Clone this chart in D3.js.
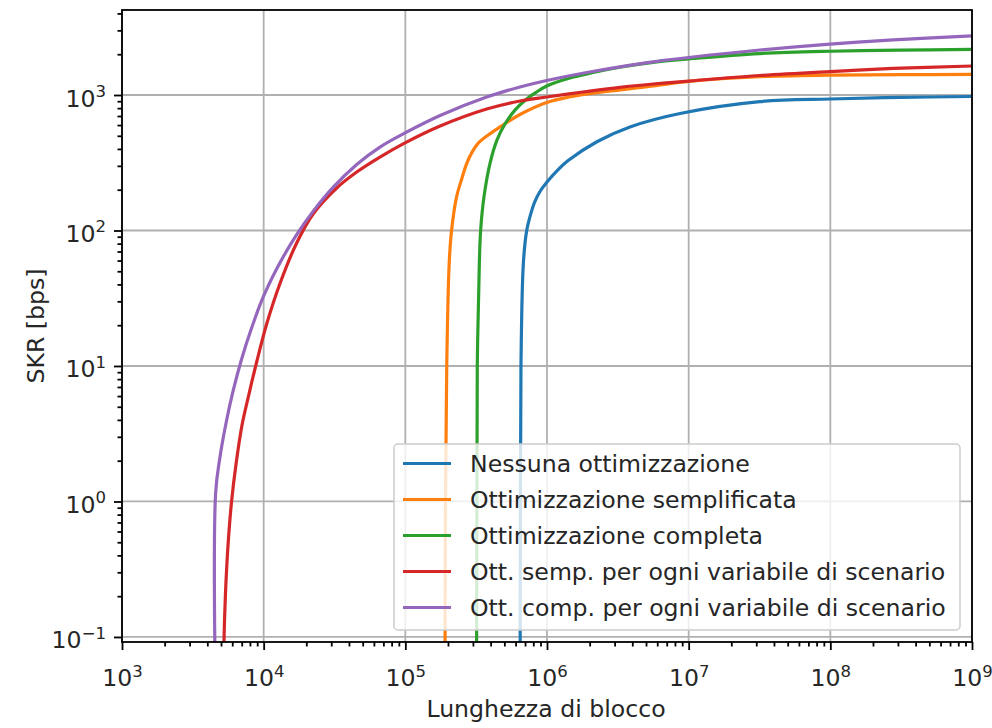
<!DOCTYPE html>
<html><head><meta charset="utf-8">
<script src="https://cdn.jsdelivr.net/npm/d3@7"></script>
<style>
body{margin:0;background:#fff}
svg{display:block}
text{font-family:"DejaVu Sans","Noto Sans",sans-serif;fill:#262626}
</style>
</head><body>
<svg id="chart" width="992" height="728"></svg>
<script>
// ---- data ----
const seriesNames = [
  "Nessuna ottimizzazione",
  "Ottimizzazione semplificata",
  "Ottimizzazione completa",
  "Ott. semp. per ogni variabile di scenario",
  "Ott. comp. per ogni variabile di scenario"
];
const seriesColors = ["#1f77b4", "#ff7f0e", "#2ca02c", "#d62728", "#9467bd"];

const nNone   = [6.46e5, 6.49e5, 6.55e5, 6.81e5, 7.19e5, 7.59e5, 8.22e5, 9.06e5, 1e6, 1.18e6, 1.41e6, 2.25e6, 3.85e6, 8.69e6, 3.18e7, 1e8, 3.16e8, 1e9];
const skrNone = [0.03, 1, 10, 57.3, 100, 127, 164, 199, 228, 277, 328, 452, 581, 730, 893, 934, 960, 975];

const nSemp   = [1.905e5, 1.92e5, 1.96e5, 2.04e5, 2.12e5, 2.30e5, 2.50e5, 2.71e5, 2.96e5, 3.26e5, 3.85e5, 4.66e5, 6.44e5, 9.95e5, 1.45e6, 2.12e6, 5.62e6, 1e7, 3.16e7, 1e8, 3.16e8, 1e9];
const skrSemp = [0.03, 1, 10, 57.3, 100, 177, 240, 312, 379, 439, 507, 581, 718, 881, 970, 1031, 1165, 1259, 1365, 1400, 1412, 1420];

const nComp   = [3.18e5, 3.20e5, 3.22e5, 3.33e5, 3.40e5, 3.59e5, 3.96e5, 4.44e5, 5.05e5, 5.94e5, 7.19e5, 8.45e5, 9.95e5, 1.45e6, 2.12e6, 3.27e6, 5.62e6, 1e7, 3.16e7, 1e8, 3.1e8, 1e9];
const skrComp = [0.03, 1, 10, 57.3, 100, 177, 313, 466, 611, 774, 934, 1052, 1165, 1334, 1466, 1603, 1742, 1845, 2023, 2104, 2143, 2173];

const nSempVar   = [5232, 5292, 5420, 5623, 5929, 6383, 7035, 7877, 8925, 10500, 13000, 17100, 22400, 32800, 45400, 66200, 99500, 176000, 375000, 644000, 995000, 1.91e6, 3.27e6, 5.62e6, 1e7, 3.18e7, 9.95e7, 2.78e8, 1e9];
const skrSempVar = [0.080, 0.133, 0.255, 0.502, 0.99, 1.89, 3.67, 6.21, 10.7, 20.4, 40.3, 80.9, 133, 206, 270, 348, 443, 590, 788, 903, 967, 1062, 1140, 1206, 1268, 1393, 1490, 1570, 1637];

const nCompVar   = [4580, 4580, 4920, 5480, 6110, 7000, 8240, 9930, 13000, 17100, 22400, 31000, 45400, 66200, 99500, 176000, 375000, 644000, 995000, 1.91e6, 3.27e6, 5.62e6, 1e7, 3.18e7, 9.95e7, 2.78e8, 1e9];
const skrCompVar = [0.03, 1.15, 2.14, 3.99, 6.65, 11.3, 19.2, 32.3, 57.5, 93.3, 139, 209, 307, 413, 525, 706, 967, 1146, 1280, 1466, 1615, 1758, 1892, 2148, 2377, 2553, 2735];

const xTickValues = [1e3, 1e4, 1e5, 1e6, 1e7, 1e8, 1e9];
const yTickValues = [1e-1, 1e0, 1e1, 1e2, 1e3];
const xDomain = [1e3, 1e9];
const yDomain = [0.0918, 4240];
const xLabel = "Lunghezza di blocco";
const yLabel = "SKR [bps]";

// ---- layout ----
const W = 992, H = 728;
const m = {left: 122, top: 10, right: 20, bottom: 86};
const pw = W - m.left - m.right, ph = H - m.top - m.bottom;
const FS = 23.6;

const svg = d3.select("#chart");
const x = d3.scaleLog().domain(xDomain).range([m.left, m.left + pw]);
const y = d3.scaleLog().domain(yDomain).range([m.top + ph, m.top]);

const series = [
  {n: nNone, s: skrNone}, {n: nSemp, s: skrSemp}, {n: nComp, s: skrComp},
  {n: nSempVar, s: skrSempVar}, {n: nCompVar, s: skrCompVar}
].map((d, i) => ({name: seriesNames[i], color: seriesColors[i],
  pts: d.n.map((v, j) => [v, d.s[j]])}));

function minorTicks(domain) {
  const out = [];
  const lo = Math.floor(Math.log10(domain[0])), hi = Math.ceil(Math.log10(domain[1]));
  for (let e = lo; e <= hi; e++) for (let k = 2; k <= 9; k++) {
    const v = k * Math.pow(10, e);
    if (v >= domain[0] && v <= domain[1]) out.push(v);
  }
  return out;
}

// grid
const grid = svg.append("g");
grid.selectAll(".gx").data(xTickValues).join("line")
  .attr("x1", d => x(d)).attr("x2", d => x(d))
  .attr("y1", m.top).attr("y2", m.top + ph)
  .attr("stroke", "#b0b0b0").attr("stroke-width", 1.8);
grid.selectAll(".gy").data(yTickValues).join("line")
  .attr("y1", d => y(d)).attr("y2", d => y(d))
  .attr("x1", m.left).attr("x2", m.left + pw)
  .attr("stroke", "#b0b0b0").attr("stroke-width", 1.8);

// lines
svg.append("clipPath").attr("id", "clip").append("rect")
  .attr("x", m.left).attr("y", m.top).attr("width", pw).attr("height", ph);
const line = d3.line().x(d => x(d[0])).y(d => y(d[1])).curve(d3.curveCatmullRom.alpha(0.5));
svg.append("g").attr("clip-path", "url(#clip)")
  .selectAll("path").data(series).join("path")
  .attr("d", d => line(d.pts))
  .attr("fill", "none").attr("stroke", d => d.color)
  .attr("stroke-width", 3.2).attr("stroke-linejoin", "round").attr("stroke-linecap", "butt");

// axes
function supLabels(sel, anchor, baseY) {
  sel.selectAll(".tick text").each(function(d) {
    const e = Math.round(Math.log10(d));
    const t = d3.select(this);
    t.text(null).attr("dy", 0).attr("y", baseY).attr("text-anchor", anchor)
      .attr("font-size", FS).attr("fill", "#262626");
    t.append("tspan").text("10");
    t.append("tspan").attr("dy", -9.5).attr("font-size", FS * 0.7)
      .text(e < 0 ? "\u2212" + Math.abs(e) : String(e));
  });
}

const xAxis = svg.append("g").attr("transform", `translate(0,${m.top + ph})`)
  .call(d3.axisBottom(x).tickValues(xTickValues).tickSize(8).tickPadding(8).tickSizeOuter(0));
supLabels(xAxis, "middle", 44);
svg.append("g").attr("transform", `translate(0,${m.top + ph})`)
  .call(d3.axisBottom(x).tickValues(minorTicks(xDomain)).tickSize(4.5).tickFormat("").tickSizeOuter(0));

const yAxis = svg.append("g").attr("transform", `translate(${m.left},0)`)
  .call(d3.axisLeft(y).tickValues(yTickValues).tickSize(8).tickPadding(8).tickSizeOuter(0));
yAxis.selectAll(".tick text").attr("x", -16);
supLabels(yAxis, "end", 11);
svg.append("g").attr("transform", `translate(${m.left},0)`)
  .call(d3.axisLeft(y).tickValues(minorTicks(yDomain)).tickSize(4.5).tickFormat("").tickSizeOuter(0));

svg.selectAll(".domain").remove();
svg.selectAll(".tick line").attr("stroke", "#000").attr("stroke-width", 1.8);

// frame
svg.append("rect").attr("x", m.left).attr("y", m.top).attr("width", pw).attr("height", ph)
  .attr("fill", "none").attr("stroke", "#000").attr("stroke-width", 1.8);

// axis labels
svg.append("text").attr("x", m.left + pw / 2 - 1).attr("y", 717)
  .attr("text-anchor", "middle").attr("font-size", FS).text(xLabel);
svg.append("text").attr("transform", `translate(44,${m.top + ph / 2}) rotate(-90)`)
  .attr("text-anchor", "middle").attr("font-size", FS).text(yLabel);

// legend
const lg = svg.append("g").attr("transform", "translate(394,444)");
lg.append("rect").attr("width", 566).attr("height", 186).attr("rx", 4)
  .attr("fill", "rgba(255,255,255,0.8)").attr("stroke", "#cccccc").attr("stroke-width", 1.5);
const rows = lg.selectAll(".row").data(series).join("g")
  .attr("transform", (d, i) => `translate(0,${19.5 + i * 36})`);
rows.append("line").attr("x1", 9).attr("x2", 57)
  .attr("stroke", d => d.color).attr("stroke-width", 3.2);
rows.append("text").attr("x", 76).attr("dy", "0.36em")
  .attr("font-size", FS).text(d => d.name);
</script>
</body></html>
